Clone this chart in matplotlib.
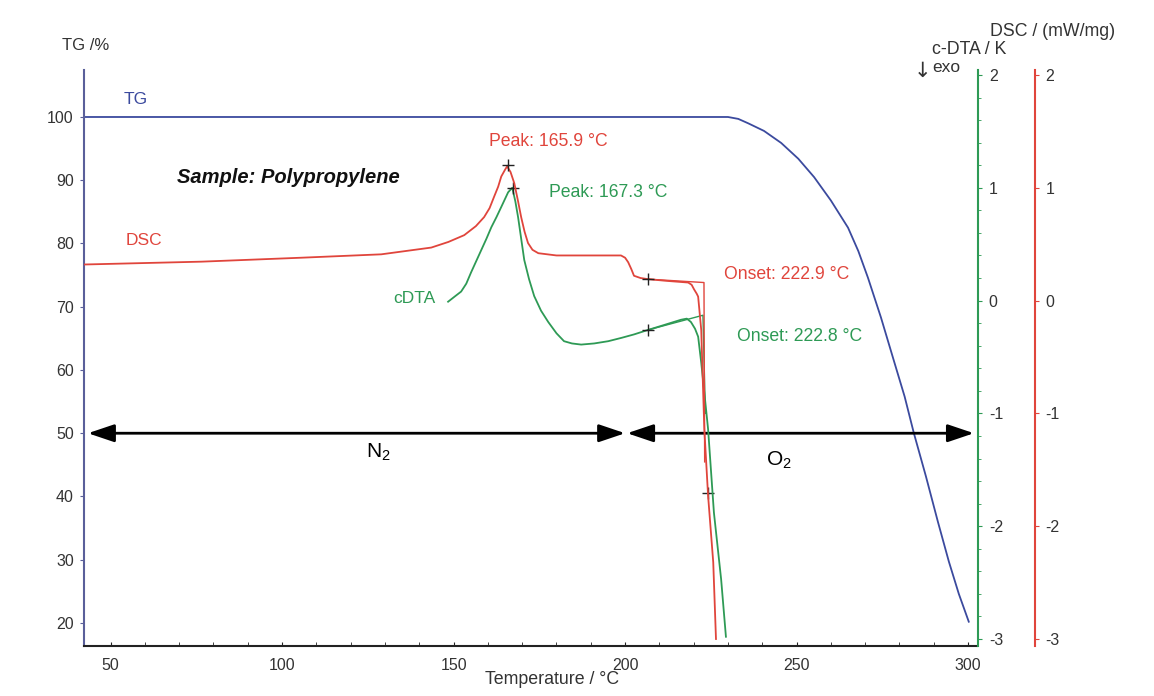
import numpy as np
import matplotlib.pyplot as plt
from matplotlib.ticker import MultipleLocator

plt.rcParams['font.family'] = ['Liberation Sans', 'DejaVu Sans']
plt.rcParams['axes.unicode_minus'] = False
plt.rcParams['mathtext.fontset'] = 'custom'
plt.rcParams['mathtext.rm'] = 'Liberation Sans'

# TG curve (%)
tg_temp = [42.5, 100, 150, 200, 230, 233, 235.9, 240.5, 245.5, 250.5, 255.1, 260,
           265, 268, 270.8, 274.6, 278.4, 281.5, 284.2, 287.7, 291.2, 294.4,
           297.3, 300.2]
tg_val = [100, 100, 100, 100, 100, 99.7, 99.0, 97.8, 95.9, 93.4, 90.5, 86.8,
          82.5, 78.8, 74.6, 68.3, 61.4, 55.8, 50, 43.2, 36.0, 29.7,
          24.6, 20.2]

# DSC curve (mW/mg)
dsc_temp = [42.5, 76.5, 105.6, 128.9, 143.5, 148.5, 153.1, 156.5, 158.9, 160.5,
            161.8, 163.0, 163.9, 165.0, 165.6, 166.6, 167.7, 168.8, 169.7, 170.7,
            171.7, 173.0, 174.7, 180, 190, 198.8, 200.0, 200.9, 201.8, 202.6,
            204.5, 206.7, 212, 218.4, 219.4, 220.1, 220.9, 221.3, 222.2, 223.1,
            224.2, 225.7, 226.5]
dsc_val = [0.32, 0.345, 0.38, 0.41, 0.47, 0.52, 0.58, 0.66, 0.74, 0.82,
           0.92, 1.01, 1.10, 1.16, 1.19, 1.14, 1.04, 0.88, 0.74, 0.61,
           0.51, 0.45, 0.42, 0.40, 0.40, 0.40, 0.38, 0.34, 0.28, 0.22,
           0.20, 0.19, 0.175, 0.16, 0.14, 0.10, 0.06, 0.035, -0.26, -1.14,
           -1.73, -2.32, -3.0]

# c-DTA curve (K)
cdta_temp = [148.4, 150.5, 152.2, 153.7, 155.1, 156.6, 158.1, 159.6, 161.0,
             162.5, 163.9, 165.9, 167.1, 168.0, 168.8, 169.7, 170.6, 172.0,
             173.5, 175.5, 177.6, 180, 182.2, 184.5, 187.2, 191, 195.1, 199,
             202.6, 206.7, 211, 216.3, 218.0, 219.2, 220.4, 221.3, 222.2, 224.2,
             225.9, 228.0, 229.4]
cdta_val = [-0.01, 0.04, 0.08, 0.15, 0.25, 0.35, 0.45, 0.55, 0.65,
            0.74, 0.83, 0.96, 1.00, 0.88, 0.74, 0.55, 0.36, 0.19,
            0.04, -0.09, -0.19, -0.29, -0.36, -0.38, -0.39, -0.38, -0.36, -0.33,
            -0.30, -0.26, -0.22, -0.17, -0.16, -0.19, -0.25, -0.32, -0.55, -1.14,
            -1.88, -2.47, -2.98]

# onset tangent constructions
dsc_tan_temp = [206.7, 223.0, 223.2]
dsc_tan_val = [0.19, 0.16, -1.43]
cdta_tan_temp = [206.7, 222.7, 223.4]
cdta_tan_val = [-0.26, -0.13, -1.0]

# markers
dsc_marks = ([165.9, 206.7], [1.20, 0.19])
cdta_marks = ([167.3, 206.7], [1.00, -0.26])
tg_mark = (224.2, 40.5)

BLUE = '#3b4a9e'
RED = '#e0453c'
GREEN = '#2e9a55'
TXT = '#333333'

fig = plt.figure(figsize=(11.54, 6.96), dpi=100)
ax = fig.add_axes([83.5 / 1154, 50 / 696, 893.5 / 1154, 576 / 696])

ax.plot(tg_temp, tg_val, color=BLUE, lw=1.3)
ax.plot(*tg_mark, marker='+', color='#222222', ms=8, mew=1)
ax.set_xlim(42.1, 302.6)
ax.set_ylim(16.36, 107.43)
ax.set_yticks([20, 30, 40, 50, 60, 70, 80, 90, 100])
ax.set_xticks([50, 100, 150, 200, 250, 300])
ax.xaxis.set_minor_locator(MultipleLocator(10))
ax.spines['top'].set_visible(False)
ax.spines['right'].set_visible(False)
ax.spines['left'].set_color('#5a5f9a')
ax.spines['left'].set_linewidth(1.5)
ax.spines['bottom'].set_color('#222222')
ax.spines['bottom'].set_linewidth(1.5)
ax.tick_params(axis='y', length=3, colors='#5a5f9a', labelcolor=TXT, labelsize=11.5,
               pad=4)
ax.tick_params(axis='x', which='both', direction='in', length=3, colors='#222222',
               labelcolor=TXT, labelsize=11.5, pad=9)

# N2 / O2 arrows
arrow_kw = dict(arrowstyle='<|-|>,head_length=0.8,head_width=0.27', color='black',
                lw=2, mutation_scale=20, shrinkA=0, shrinkB=0)
ax.annotate('', xy=(43.4, 50), xytext=(200.0, 50), arrowprops=arrow_kw)
ax.annotate('', xy=(200.6, 50), xytext=(301.7, 50), arrowprops=arrow_kw)

# c-DTA axis
ax2 = ax.twinx()
ax2.plot(cdta_temp, cdta_val, color=GREEN, lw=1.3)
ax2.plot(cdta_tan_temp, cdta_tan_val, color=GREEN, lw=1)
ax2.plot(*cdta_marks, ls='none', marker='+', color='#222222', ms=8, mew=1)
ax2.set_ylim(-3.062, 2.044)
ax2.set_yticks([-3, -2, -1, 0, 1, 2])
ax2.yaxis.set_minor_locator(MultipleLocator(0.2))
for s in ['top', 'left', 'bottom']:
    ax2.spines[s].set_visible(False)
ax2.spines['right'].set_position(('outward', 0.5))
ax2.spines['right'].set_color(GREEN)
ax2.spines['right'].set_linewidth(1.5)
ax2.tick_params(axis='y', which='major', length=3, colors=GREEN, labelcolor=TXT,
                labelsize=11.5, pad=5)
ax2.tick_params(axis='y', which='minor', length=2, colors=GREEN)

# DSC axis
ax3 = ax.twinx()
ax3.plot(dsc_temp, dsc_val, color=RED, lw=1.3)
ax3.plot(dsc_tan_temp, dsc_tan_val, color=RED, lw=1)
ax3.plot(*dsc_marks, ls='none', marker='+', color='#222222', ms=8, mew=1)
ax3.set_ylim(-3.062, 2.044)
ax3.set_yticks([-3, -2, -1, 0, 1, 2])
for s in ['top', 'left', 'bottom']:
    ax3.spines[s].set_visible(False)
ax3.spines['right'].set_position(('outward', 41.5))
ax3.spines['right'].set_color(RED)
ax3.spines['right'].set_linewidth(1.5)
ax3.tick_params(axis='y', length=3, colors=RED, labelcolor=TXT, labelsize=11.5, pad=5)

# text annotations
ax.text(57.3, 102.7, 'TG', color=BLUE, fontsize=12.5, ha='center', va='center')
ax.text(69.5, 90.4, 'Sample: Polypropylene', fontsize=14.5, fontweight='bold',
        style='italic', color='#111111', va='center')
ax.text(54.4, 80.4, 'DSC', color=RED, fontsize=12.5, va='center')
ax.text(132.5, 71.3, 'cDTA', color=GREEN, fontsize=12.5, va='center')
ax3.text(160.2, 1.41, 'Peak: 165.9 °C', color=RED, fontsize=12.7, va='center')
ax2.text(177.7, 0.96, 'Peak: 167.3 °C', color=GREEN, fontsize=12.7, va='center')
ax3.text(228.7, 0.23, 'Onset: 222.9 °C', color=RED, fontsize=12.7, va='center')
ax2.text(232.5, -0.32, 'Onset: 222.8 °C', color=GREEN, fontsize=12.7, va='center')
ax.text(128.1, 47.0, 'N$_2$', fontsize=15, ha='center', va='center')
ax.text(244.8, 45.8, 'O$_2$', fontsize=15, ha='center', va='center')

fig.text(86 / 1154, 1 - 45 / 696, 'TG /%', fontsize=12, color=TXT, ha='center', va='center')
fig.text(552 / 1154, 1 - 680 / 696, 'Temperature / °C', fontsize=12.8, color=TXT,
         ha='center', va='center')
fig.text(1053 / 1154, 1 - 32 / 696, 'DSC / (mW/mg)', fontsize=12.8, color=TXT,
         ha='center', va='center')
fig.text(969 / 1154, 1 - 50 / 696, 'c-DTA / K', fontsize=12.8, color=TXT,
         ha='center', va='center')
fig.text(922 / 1154, 1 - 71 / 696, '↓', fontsize=15, color=TXT, family='DejaVu Sans',
         ha='center', va='center')
fig.text(946 / 1154, 1 - 67 / 696, 'exo', fontsize=12.5, color=TXT,
         ha='center', va='center')

fig.savefig('out.png', dpi=100)
